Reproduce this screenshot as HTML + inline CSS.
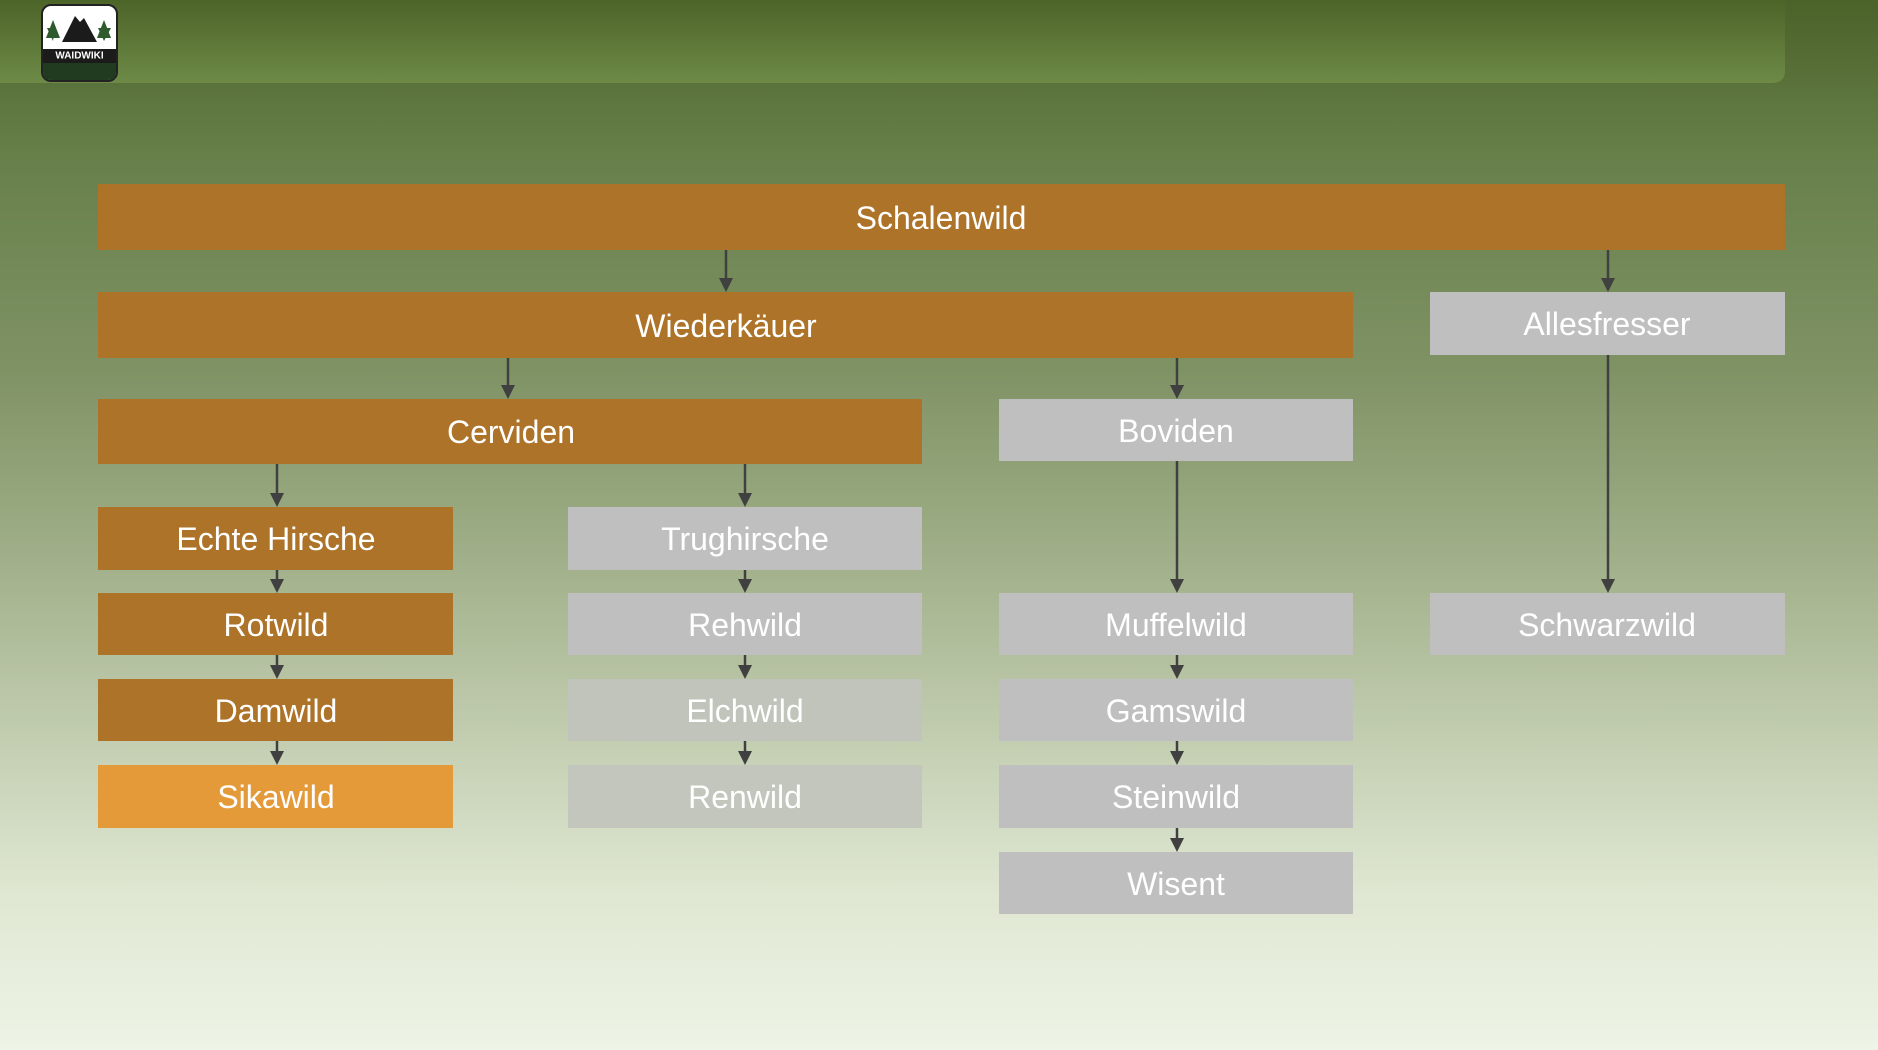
<!DOCTYPE html>
<html><head><meta charset="utf-8"><style>
html,body{margin:0;padding:0;width:1878px;height:1050px;overflow:hidden}
body{background:linear-gradient(to bottom,#4b6229 0%,#67804a 15%,#7f9264 35%,#9aaa82 50%,#c2cdb0 70%,#dfe7d2 85%,#eef4e6 100%)}
text{font-family:"Liberation Sans Narrow","Liberation Sans",sans-serif;font-size:32px;fill:#fff;text-anchor:middle;dominant-baseline:central}
</style></head><body>
<svg width="1878" height="1050" viewBox="0 0 1878 1050" xmlns="http://www.w3.org/2000/svg" style="position:absolute;left:0;top:0">
<defs>
<linearGradient id="hb" x1="0" y1="0" x2="0" y2="1"><stop offset="0" stop-color="#4d6429"/><stop offset="1" stop-color="#6d8a47"/></linearGradient>
<marker id="ah" markerWidth="12" markerHeight="14" refX="6" refY="14" orient="auto" markerUnits="userSpaceOnUse">
<path d="M0,0 L12,0 L6,14 Z" transform="rotate(-90 6 7) translate(0,0)" fill="none"/>
</marker>
</defs>
<path d="M0,0 H1785 V70 Q1785,83 1772,83 H0 Z" fill="url(#hb)"/>
<!-- logo -->
<rect x="42" y="5" width="75" height="76" rx="9" fill="#fff" stroke="#222" stroke-width="2"/>
<rect x="43" y="49" width="73" height="14" fill="#1b1b1b"/>
<path d="M43,63 H116 V72 Q116,80 108,80 H51 Q43,80 43,72 Z" fill="#203b20"/>
<text x="79.5" y="56" style="font-size:10px;font-weight:bold;font-family:'Liberation Sans',sans-serif">WAIDWIKI</text>
<path d="M62,42 L75,16 L80,22 L84,18 L97,42 Z" fill="#1b1b1b"/>
<path d="M53,41 L47,28 L55,28 Z M46,38 L53,20 L60,38 Z" fill="#2e5a2e"/>
<path d="M104,41 L98,28 L111,28 Z M97,38 L104,20 L111,38 Z" fill="#2e5a2e"/>
<!-- boxes -->
<g>
<rect x="98" y="184" width="1687" height="66" fill="#ad7329"/><text x="941" y="218">Schalenwild</text>
<rect x="98" y="292" width="1255" height="66" fill="#ad7329"/><text x="726" y="326">Wiederkäuer</text>
<rect x="1430" y="292" width="355" height="63" fill="#bfbfbf"/><text x="1607" y="324">Allesfresser</text>
<rect x="98" y="399" width="824" height="65" fill="#ad7329"/><text x="511" y="432">Cerviden</text>
<rect x="999" y="399" width="354" height="62" fill="#bfbfbf"/><text x="1176" y="431">Boviden</text>

<rect x="98" y="507" width="355" height="63" fill="#ad7329"/><text x="276" y="539">Echte Hirsche</text>
<rect x="98" y="593" width="355" height="62" fill="#ad7329"/><text x="276" y="625">Rotwild</text>
<rect x="98" y="679" width="355" height="62" fill="#ad7329"/><text x="276" y="711">Damwild</text>
<rect x="98" y="765" width="355" height="63" fill="#e59a3a"/><text x="276" y="797">Sikawild</text>

<rect x="568" y="507" width="354" height="63" fill="#bfbfbf"/><text x="745" y="539">Trughirsche</text>
<rect x="568" y="593" width="354" height="62" fill="#bfbfbf"/><text x="745" y="625">Rehwild</text>
<rect x="568" y="679" width="354" height="62" fill="#c1c4bb"/><text x="745" y="711">Elchwild</text>
<rect x="568" y="765" width="354" height="63" fill="#c3c6bd"/><text x="745" y="797">Renwild</text>

<rect x="999" y="593" width="354" height="62" fill="#bfbfbf"/><text x="1176" y="625">Muffelwild</text>
<rect x="999" y="679" width="354" height="62" fill="#bfbfbf"/><text x="1176" y="711">Gamswild</text>
<rect x="999" y="765" width="354" height="63" fill="#bfbfbf"/><text x="1176" y="797">Steinwild</text>
<rect x="999" y="852" width="354" height="62" fill="#bfbfbf"/><text x="1176" y="884">Wisent</text>

<rect x="1430" y="593" width="355" height="62" fill="#bfbfbf"/><text x="1607" y="625">Schwarzwild</text>
</g>
<!-- connectors -->
<g stroke="#404040" stroke-width="2.5" fill="#404040">
<line x1="726" y1="250" x2="726" y2="280"/><path d="M719,278 L733,278 L726,292 Z" stroke="none"/>
<line x1="1608" y1="250" x2="1608" y2="280"/><path d="M1601,278 L1615,278 L1608,292 Z" stroke="none"/>
<line x1="508" y1="358" x2="508" y2="387"/><path d="M501,385 L515,385 L508,399 Z" stroke="none"/>
<line x1="1177" y1="358" x2="1177" y2="387"/><path d="M1170,385 L1184,385 L1177,399 Z" stroke="none"/>
<line x1="277" y1="464" x2="277" y2="495"/><path d="M270,493 L284,493 L277,507 Z" stroke="none"/>
<line x1="745" y1="464" x2="745" y2="495"/><path d="M738,493 L752,493 L745,507 Z" stroke="none"/>
<line x1="1177" y1="461" x2="1177" y2="581"/><path d="M1170,579 L1184,579 L1177,593 Z" stroke="none"/>
<line x1="1608" y1="355" x2="1608" y2="581"/><path d="M1601,579 L1615,579 L1608,593 Z" stroke="none"/>

<line x1="277" y1="570" x2="277" y2="581"/><path d="M270,579 L284,579 L277,593 Z" stroke="none"/>
<line x1="277" y1="655" x2="277" y2="667"/><path d="M270,665 L284,665 L277,679 Z" stroke="none"/>
<line x1="277" y1="741" x2="277" y2="753"/><path d="M270,751 L284,751 L277,765 Z" stroke="none"/>

<line x1="745" y1="570" x2="745" y2="581"/><path d="M738,579 L752,579 L745,593 Z" stroke="none"/>
<line x1="745" y1="655" x2="745" y2="667"/><path d="M738,665 L752,665 L745,679 Z" stroke="none"/>
<line x1="745" y1="741" x2="745" y2="753"/><path d="M738,751 L752,751 L745,765 Z" stroke="none"/>

<line x1="1177" y1="655" x2="1177" y2="667"/><path d="M1170,665 L1184,665 L1177,679 Z" stroke="none"/>
<line x1="1177" y1="741" x2="1177" y2="753"/><path d="M1170,751 L1184,751 L1177,765 Z" stroke="none"/>
<line x1="1177" y1="828" x2="1177" y2="840"/><path d="M1170,838 L1184,838 L1177,852 Z" stroke="none"/>
</g>
</svg>
</body></html>
